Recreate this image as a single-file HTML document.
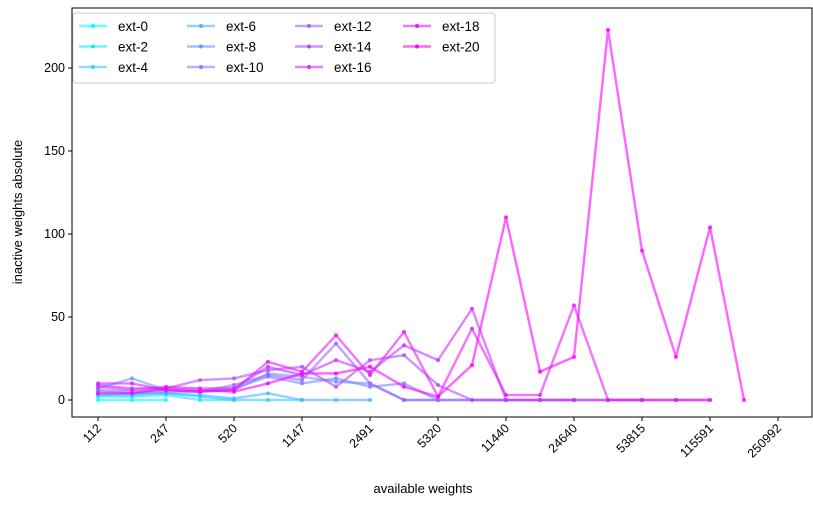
<!DOCTYPE html>
<html><head><meta charset="utf-8"><style>
body{margin:0;background:#fff;font-family:"Liberation Sans","DejaVu Sans",sans-serif}
svg text{font-family:"Liberation Sans","DejaVu Sans",sans-serif}
</style></head><body>
<svg id="chart" width="813" height="505" xmlns="http://www.w3.org/2000/svg">
<rect x="0" y="0" width="813" height="505" fill="#fff"/>
<g id="plot"></g>
<rect x="72" y="8" width="740" height="409" fill="none" stroke="#000" stroke-width="1"/>
<g id="axes"></g>
<text x="423" y="493" font-size="13" text-anchor="middle">available weights</text>
<text transform="translate(22,212) rotate(-90)" font-size="13" text-anchor="middle">inactive weights absolute</text>
<g id="legend"></g>
</svg>
<script>
const xTickLabels = ["112","247","520","1147","2491","5320","11440","24640","53815","115591","250992"];
const yTicks = [0,50,100,150,200];
const seriesNames = ["ext-0","ext-2","ext-4","ext-6","ext-8","ext-10","ext-12","ext-14","ext-16","ext-18","ext-20"];
const s0 = [0,0,0];
const s2 = [2,2,3,0,0];
const s4 = [3,3,4,2,0,0,0];
const s6 = [3,4,4,3,1,4,0,0,0];
const s8 = [7,13,6,5,6,16,14,11,10,0,0];
const s10 = [5,4,5,5,7,14,10,13,8,10,0,0,0];
const s12 = [6,5,6,5,9,15,12,34,10,0,0,0,0,0,0];
const s14 = [9,7,7,12,13,18,20,8,24,27,9,0,0,0,0,0,0];
const s16 = [8,6,8,7,7,20,15,24,17,33,24,55,0,0,0,0,0,0,0];
const s18 = [10,10,6,5,6,23,17,39,15,41,2,43,3,3,57,0,0,0,0];
const s20 = [4,4,7,6,5,10,16,16,20,8,2,21,110,17,26,223,90,26,104,0];
const seriesValues = [s0,s2,s4,s6,s8,s10,s12,s14,s16,s18,s20];

const NS="http://www.w3.org/2000/svg";
const xScale = i => 98 + 34*i;
const yScale = v => 400 - v*1.66;
function colorFor(i){const t=i/(seriesNames.length-1);return `rgb(${Math.round(255*t)},${Math.round(255*(1-t))},255)`;}
function mk(tag,attrs,parent){const e=document.createElementNS(NS,tag);for(const k in attrs)e.setAttribute(k,attrs[k]);parent.appendChild(e);return e;}

const plot=document.getElementById('plot');
seriesValues.forEach((vals,si)=>{
  const g=mk('g',{},plot);
  
  
  const c=colorFor(si);
  const pts=vals.map((v,i)=>xScale(i)+','+yScale(v)).join(' ');
  const pl=mk('polyline',{points:pts,fill:'none',stroke:c,'stroke-width':2.4,'stroke-opacity':0.6,'stroke-linejoin':'round'},g);
  
  
  vals.forEach((v,i)=>{
    const p=mk('circle',{cx:xScale(i),cy:yScale(v),r:2,fill:c,'fill-opacity':0.8},g);
    
    
  });
});

const axes=document.getElementById('axes');
xTickLabels.forEach((l,i)=>{
  const x=xScale(2*i);
  const t=mk('line',{x1:x,y1:417,x2:x,y2:421,stroke:'#000'},axes);
  
  
  const tx=mk('text',{transform:`translate(${x+4},${429}) rotate(-45)`,'font-size':12.5,'text-anchor':'end'},axes);
  
  
  tx.textContent=l;
});
yTicks.forEach(v=>{
  const y=yScale(v);
  const t=mk('line',{x1:68,y1:y,x2:72,y2:y,stroke:'#000'},axes);
  
  
  const tx=mk('text',{x:65,y:y+4,'font-size':12.5,'text-anchor':'end'},axes);
  
  
  tx.textContent=v;
});

const lg=document.getElementById('legend');
const box=mk('rect',{x:73,y:13,width:422,height:70,rx:3,fill:'#fff','fill-opacity':0.8,stroke:'#ccc'},lg);


seriesNames.forEach((n,i)=>{
  const col=Math.floor(i/3),row=i%3;
  const x=79+col*108,y=26+row*20.5;
  const g=mk('g',{},lg);
  
  
  const c=colorFor(i);
  mk('line',{x1:x,y1:y,x2:x+28,y2:y,stroke:c,'stroke-width':2.4,'stroke-opacity':0.6},g);
  mk('circle',{cx:x+14,cy:y,r:2,fill:c},g);
  const t=mk('text',{x:x+39,y:y+5,'font-size':13.5},g);
  t.textContent=n;
});
</script>
</body></html>
